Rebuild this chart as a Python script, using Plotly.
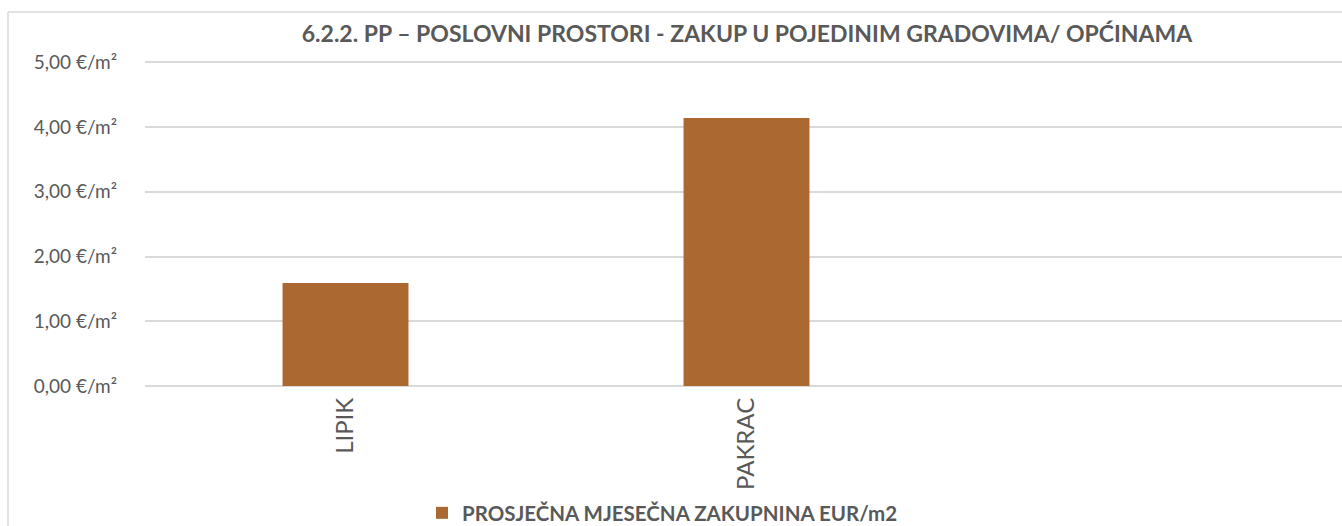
import plotly.graph_objects as go

categories = ["LIPIK", "PAKRAC"]
values = [1.59, 4.14]
series_name = "PROSJEČNA MJESEČNA ZAKUPNINA EUR/m2"
title_text = "6.2.2. PP – POSLOVNI PROSTORI - ZAKUP U POJEDINIM GRADOVIMA/ OPĆINAMA"
y_tickvals = [0, 1, 2, 3, 4, 5]
y_ticktext = ["0,00 €/m²", "1,00 €/m²", "2,00 €/m²", "3,00 €/m²", "4,00 €/m²", "5,00 €/m²"]
y_max = 5.02

W, H = 1342, 526
ML, MR, MT, MB = 145, 0, 61, 140
pw = W - ML - MR
ph = H - MT - MB
grey = "#595959"
font = "Lato"

fig = go.Figure()
fig.add_trace(go.Bar(
    x=categories, y=values, name="<b>" + series_name + "</b>",
    marker=dict(color="#AB6830", line=dict(width=0)),
    width=0.314, showlegend=True,
))

fig.update_layout(
    width=W, height=H,
    margin=dict(l=ML, r=MR, t=MT, b=MB, autoexpand=False),
    paper_bgcolor="white", plot_bgcolor="white",
    font=dict(family=font, color=grey),
    title=dict(text="<b>" + title_text + "</b>", x=747 / W, xanchor="center",
               y=1 - 34 / H, yanchor="middle", font=dict(size=23, color=grey, family=font)),
    showlegend=True,
    legend=dict(orientation="h", x=(422 - ML) / pw, xanchor="left",
                y=-(513 - MT - ph) / ph, yanchor="middle",
                font=dict(size=20.5, color=grey, family=font), itemwidth=30),
    xaxis=dict(range=[-0.5, 2.5 - (6 / 401)], tickangle=-90, showgrid=False,
               showline=False, ticks="", automargin=False, ticklabelstandoff=6,
               tickfont=dict(size=24, color=grey, family=font)),
    yaxis=dict(range=[0, y_max], tickvals=y_tickvals, ticktext=y_ticktext,
               showgrid=True, gridcolor="#d9d9d9", gridwidth=1.5,
               zeroline=True, zerolinecolor="#d9d9d9", zerolinewidth=1.5,
               showline=False, ticks="", ticklabelstandoff=27, automargin=False,
               tickfont=dict(size=19, color=grey, family=font)),
    shapes=[
        dict(type="line", xref="paper", yref="paper",
             x0=(8 - ML) / pw, x1=(8 - ML) / pw,
             y0=-MB / ph, y1=(ph + MT - 12) / ph,
             line=dict(color="#d9d9d9", width=1.5)),
        dict(type="line", xref="paper", yref="paper",
             x0=(8 - ML) / pw, x1=1,
             y0=(ph + MT - 12) / ph, y1=(ph + MT - 12) / ph,
             line=dict(color="#d9d9d9", width=1.5)),
    ],
)

fig.write_html("out.html", config={"displayModeBar": False},
               post_script="document.body.style.margin='0';document.body.style.overflow='hidden';")
